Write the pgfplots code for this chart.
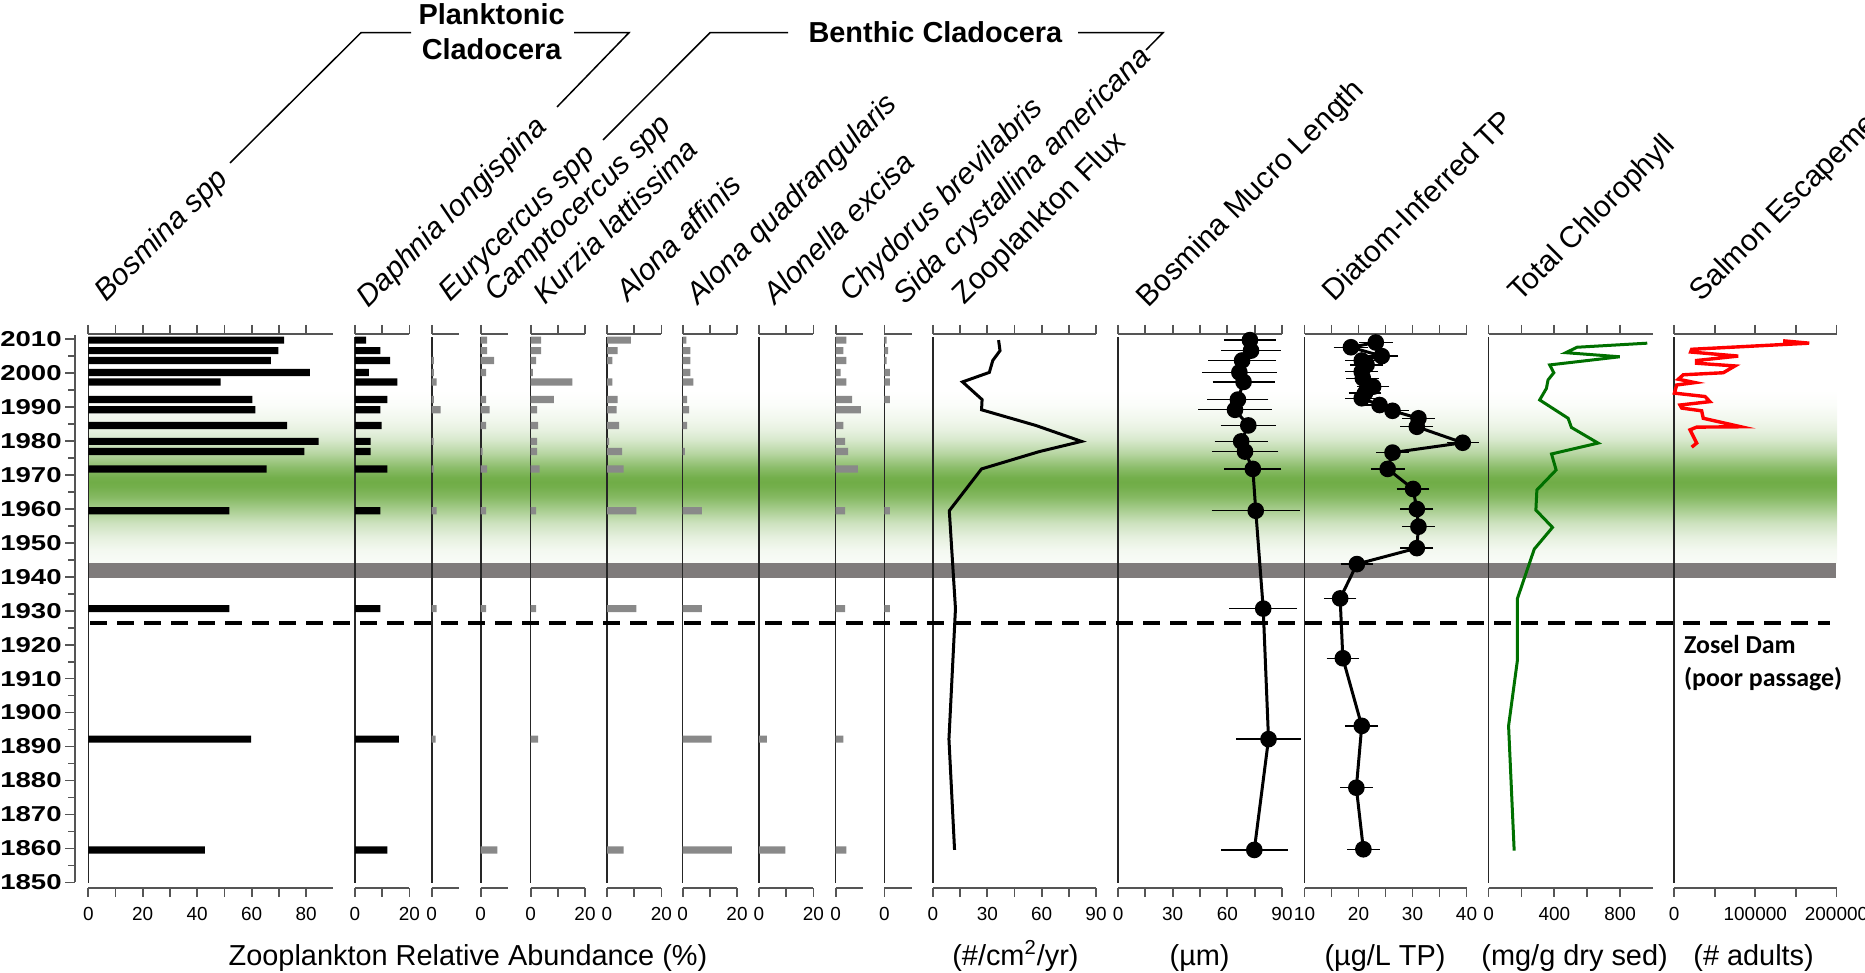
\documentclass[border=0pt]{standalone}
\usepackage{fontspec}
\setmainfont{Liberation Sans}
\newfontfamily\yearfont{Liberation Sans}[BoldFeatures={FakeStretch=1.28}]
\newfontfamily\carlito{Carlito}
\usepackage{pgfplots}
\pgfplotsset{compat=1.18}
\definecolor{bandgreen}{RGB}{112,173,71}
\definecolor{bandgray}{RGB}{127,123,123}
\definecolor{bargray}{RGB}{137,137,137}
\definecolor{chlgreen}{RGB}{0,112,0}
\definecolor{axgray}{RGB}{85,85,85}
\pgfdeclareverticalshading{bandshade}{100bp}{
color(0bp)=(bandgreen!4!white);
color(25bp)=(bandgreen!4!white);
color(28.85bp)=(bandgreen!8!white);
color(32.6bp)=(bandgreen!18!white);
color(36.65bp)=(bandgreen!35!white);
color(40.4bp)=(bandgreen!60!white);
color(44.15bp)=(bandgreen!85!white);
color(47bp)=(bandgreen!97!white);
color(48.45bp)=(bandgreen);
color(49.9bp)=(bandgreen!97!white);
color(52.8bp)=(bandgreen!80!white);
color(56.8bp)=(bandgreen!50!white);
color(60.55bp)=(bandgreen!28!white);
color(63.45bp)=(bandgreen!17!white);
color(66.35bp)=(bandgreen!10!white);
color(70.65bp)=(bandgreen!3!white);
color(75bp)=(white);
color(100bp)=(white)}
\pgfplotsset{
  panel/.style={
    scale only axis, height=277bp,
    ymin=1848.4, ymax=2011.4,
    axis x line=box, axis y line=none, ytick=\empty,
    tick align=outside,
    major tick length=4.5bp, minor tick length=4.5bp,
    x axis line style={axgray, line width=0.9bp},
    tick style={axgray, line width=0.9bp},
    xticklabel style={font=\fontsize{9.5}{10}\selectfont, text=black, yshift=-1.5bp},
    /pgf/number format/assume math mode=true,
    /pgf/number format/fixed,
    /pgf/number format/1000 sep={},
    scaled x ticks=false,
    clip=false,
    anchor=south west,
  },
  bars/.style={xbar, bar width=3.6bp, draw=none, fill=#1},
}
\newcommand\zeroline[1]{\draw[black!85, line width=0.8bp] (axis cs:#1,1850) -- (axis cs:#1,2010.6);}
\begin{document}
\begin{tikzpicture}
\useasboundingbox (0,0) rectangle (932.5bp,486.5bp);
% background bands
\shade[shading=bandshade] (44bp,204.85bp) rectangle (918.5bp,291.5bp);
\fill[bandgray] (44.5bp,197.65bp) rectangle (918bp,204.85bp);

% year axis
\begin{axis}[scale only axis, width=5bp, height=273.9bp, at={(37.5bp,45.25bp)}, anchor=south west,
  xmin=0, xmax=1, ymin=1850, ymax=2011.2, axis y line=left, axis x line=none,
  axis line style={-}, y axis line style={axgray, line width=0.9bp},
  ytick={1850,1860,...,2010}, minor ytick={1855,1865,...,2005}, tick align=outside,
  major tick length=5bp, minor tick length=3.5bp, tick style={axgray, line width=0.9bp},
  yticklabel style={font=\yearfont\bfseries\fontsize{10.8}{12}\selectfont, text=black, inner xsep=1.5bp, inner ysep=0pt},
  /pgf/number format/assume math mode=true, /pgf/number format/fixed, /pgf/number format/1000 sep={}]
\addplot[draw=none] coordinates {(0.5,1900)};
\end{axis}

% 1 Bosmina
\begin{axis}[panel, at={(44.15bp,42.5bp)}, width=122.5bp, xmin=0, xmax=90, xtick={0,20,...,80}, minor xtick={10,30,...,70}]
\zeroline{0}
\addplot[bars=black] coordinates {(71.9,2009.6) (69.8,2006.5) (67.1,2003.6) (81.4,2000.1) (48.6,1997.3) (60.3,1992.1) (61.4,1989.1) (73.0,1984.5) (84.6,1979.8) (79.4,1976.8) (65.5,1971.7) (51.8,1959.4) (51.8,1930.6) (59.8,1892.2) (42.8,1859.6)};
\end{axis}
% 2 Daphnia
\begin{axis}[panel, at={(177.5bp,42.5bp)}, width=27.2bp, xmin=0, xmax=20, xtick={0,20}, minor xtick={10}]
\zeroline{0}
\addplot[bars=black] coordinates {(4.1,2009.6) (9.3,2006.5) (12.9,2003.6) (5.1,2000.1) (15.6,1997.3) (11.9,1992.1) (9.3,1989.1) (9.8,1984.5) (5.7,1979.8) (5.7,1976.8) (11.9,1971.7) (9.3,1959.4) (9.3,1930.6) (16.1,1892.2) (11.9,1859.6)};
\end{axis}
% 3 Eurycercus
\begin{axis}[panel, at={(215.85bp,42.5bp)}, width=13.6bp, xmin=0, xmax=10, xtick={0}]
\zeroline{0}
\addplot[bars=bargray] coordinates {(0.8,2003.6) (0.8,2000.1) (1.8,1997.3) (0.8,1992.1) (3.3,1989.1) (0.7,1979.8) (0.7,1971.7) (1.8,1959.4) (1.8,1930.6) (1.4,1892.2)};
\end{axis}
% 4 Camptocercus
\begin{axis}[panel, at={(240.35bp,42.5bp)}, width=13.6bp, xmin=0, xmax=10, xtick={0}]
\zeroline{0}
\addplot[bars=bargray] coordinates {(2.4,2009.6) (2.4,2006.5) (4.9,2003.6) (2.0,2000.1) (2.0,1992.1) (3.3,1989.1) (2.0,1984.5) (0.7,1976.8) (2.4,1971.7) (2.0,1959.4) (2.0,1930.6) (6.1,1859.6)};
\end{axis}
% 5 Kurzia
\begin{axis}[panel, at={(265.3bp,42.5bp)}, width=27.2bp, xmin=0, xmax=20, xtick={0,20}, minor xtick={10}]
\zeroline{0}
\addplot[bars=bargray] coordinates {(3.9,2009.6) (3.9,2006.5) (2.0,2003.6) (0.8,2000.1) (15.4,1997.3) (8.6,1992.1) (2.4,1989.1) (2.8,1984.5) (2.4,1979.8) (2.4,1976.8) (3.3,1971.7) (2.0,1959.4) (2.0,1930.6) (2.8,1892.2)};
\end{axis}
% 6 Alona affinis
\begin{axis}[panel, at={(303.5bp,42.5bp)}, width=27.2bp, xmin=0, xmax=20, xtick={0,20}, minor xtick={10}]
\zeroline{0}
\addplot[bars=bargray] coordinates {(8.8,2009.6) (3.9,2006.5) (2.0,2003.6) (2.0,1997.3) (3.9,1992.1) (3.5,1989.1) (4.5,1984.5) (0.8,1979.8) (5.6,1976.8) (6.1,1971.7) (10.8,1959.4) (10.8,1930.6) (6.1,1859.6)};
\end{axis}
% 7 Alona quadrangularis
\begin{axis}[panel, at={(341.3bp,42.5bp)}, width=27.2bp, xmin=0, xmax=20, xtick={0,20}, minor xtick={10}]
\zeroline{0}
\addplot[bars=bargray] coordinates {(1.4,2009.6) (2.9,2006.5) (2.9,2003.6) (2.9,2000.1) (4.0,1997.3) (1.7,1992.1) (2.4,1989.1) (1.7,1984.5) (0.8,1976.8) (7.1,1959.4) (7.1,1930.6) (10.7,1892.2) (18.1,1859.6)};
\end{axis}
% 8 Alonella excisa
\begin{axis}[panel, at={(379.5bp,42.5bp)}, width=27.2bp, xmin=0, xmax=20, xtick={0,20}, minor xtick={10}]
\zeroline{0}
\addplot[bars=bargray] coordinates {(2.9,1892.2) (9.7,1859.6)};
\end{axis}
% 9 Chydorus
\begin{axis}[panel, at={(417.8bp,42.5bp)}, width=13.6bp, xmin=0, xmax=10, xtick={0}]
\zeroline{0}
\addplot[bars=bargray] coordinates {(4.0,2009.6) (2.9,2006.5) (4.0,2003.6) (1.8,2000.1) (4.0,1997.3) (6.1,1992.1) (9.3,1989.1) (2.9,1984.5) (3.5,1979.8) (4.6,1976.8) (8.2,1971.7) (3.5,1959.4) (3.5,1930.6) (2.9,1892.2) (4.0,1859.6)};
\end{axis}
% 10 Sida
\begin{axis}[panel, at={(442.2bp,42.5bp)}, width=13.6bp, xmin=0, xmax=10, xtick={0}]
\zeroline{0}
\addplot[bars=bargray] coordinates {(0.8,2009.6) (1.4,2006.5) (0.8,2003.6) (2.0,2000.1) (2.0,1997.3) (2.0,1992.1) (2.0,1959.4) (2.0,1930.6)};
\end{axis}
% 11 Flux
\begin{axis}[panel, at={(466.5bp,42.5bp)}, width=81.5bp, xmin=0, xmax=90, xtick={0,30,60,90}, minor xtick={15,45,75}]
\zeroline{0}
\addplot[black, line width=1.5bp] coordinates {(36.2,2009.6) (37.0,2006.5) (33.0,2003.6) (31.1,2000.1) (16.3,1997.3) (27.1,1992.1) (26.8,1989.1) (56.7,1984.5) (82.0,1979.8) (58.7,1976.8) (26.8,1971.7) (9.0,1959.4) (12.4,1930.6) (8.8,1892.2) (11.9,1859.6)};
\end{axis}
% 12 Mucro
\begin{axis}[panel, at={(559bp,42.5bp)}, width=82bp, xmin=0, xmax=90, xtick={0,30,60,90}, minor xtick={15,45,75}]
\zeroline{0}
\addplot[black, line width=1.5bp, mark=*, mark size=3.4bp, mark options={solid, fill=black},
  error bars/.cd, x dir=both, x explicit, error bar style={line width=0.65bp, black},
  error mark options={line width=0.65bp, mark size=2.5bp, black}]
  table[x=x, y=y, x error=e, row sep=\\] {
x y e\\
72.4 2009.6 11.5\\
73.0 2006.5 13.5\\
68.1 2003.6 15.9\\
66.6 2000.1 17.9\\
68.9 1997.3 14.3\\
65.8 1992.1 14.0\\
64.2 1989.1 17.5\\
71.5 1984.5 12.4\\
67.6 1979.8 11.9\\
69.7 1976.8 15.5\\
74.0 1971.7 12.9\\
75.6 1959.4 21.5\\
79.7 1930.6 15.8\\
82.6 1892.2 14.9\\
74.8 1859.6 15.5\\
};
\end{axis}
% 13 TP
\begin{axis}[panel, at={(652.25bp,42.5bp)}, width=81bp, xmin=10, xmax=40, xtick={10,20,30,40}, minor xtick={15,25,35}]
\zeroline{10}
\addplot[black, line width=1.5bp, mark=*, mark size=3.4bp, mark options={solid, fill=black},
  error bars/.cd, x dir=both, x explicit, error bar style={line width=0.65bp, black},
  error mark options={line width=0.65bp, mark size=2.5bp, black}]
  table[x=x, y=y, x error=e, row sep=\\] {
x y e\\
23.2 2008.9 2.2\\
18.6 2007.5 2.3\\
24.3 2004.9 2.1\\
20.6 2003.6 2.1\\
21.5 2002.3 2.1\\
20.6 2000.3 2.1\\
20.8 1998.4 2.1\\
22.7 1995.9 2.1\\
21.2 1994.0 2.1\\
20.6 1992.5 2.1\\
23.9 1990.5 2.1\\
26.3 1988.8 2.1\\
31.1 1986.6 2.1\\
30.8 1984.1 2.1\\
39.3 1979.4 2.0\\
26.3 1976.5 2.1\\
25.4 1971.7 2.2\\
30.1 1965.8 2.1\\
30.8 1959.9 2.1\\
31.1 1954.7 2.1\\
30.8 1948.4 2.1\\
19.7 1943.7 2.1\\
16.6 1933.6 2.1\\
17.1 1916.0 2.1\\
20.6 1896.1 2.1\\
19.6 1877.9 2.1\\
20.9 1859.8 2.1\\
};
\end{axis}
% 14 Chlorophyll
\begin{axis}[panel, at={(744.25bp,42.5bp)}, width=82.25bp, xmin=0, xmax=1000, xtick={0,400,800}, minor xtick={200,600}]
\zeroline{0}
\addplot[chlgreen, line width=1.5bp] coordinates {(965,2008.7) (538,2007.5) (470,2005.9) (798,2004.7) (372,2002.3) (397,2000.0) (362,1997.9) (352,1995.4) (311,1992.0) (484,1986.6) (504,1983.9) (666,1979.3) (383,1976.1) (411,1971.4) (294,1965.5) (288,1959.6) (389,1954.5) (278,1948.1) (176,1933.6) (176,1915.5) (122,1896.1) (156,1859.4)};
\end{axis}
% 15 Salmon
\begin{axis}[panel, at={(837bp,42.5bp)}, width=81.25bp, xmin=0, xmax=200000, xtick={0,100000,200000}, xticklabels={0,100000,200000}, minor xtick={50000,150000}]
\zeroline{0}
\addplot[red, line width=1.7bp] coordinates {(134300,2009.4) (166300,2008.7) (21750,2006.9) (20500,2006.1) (79000,2004.9) (27900,2003.6) (27900,2002.8) (75000,2002.0) (60600,2000.0) (11400,1999.4) (5300,1998.1) (25800,1997.1) (3300,1996.4) (500,1994.0) (38100,1993.0) (44200,1991.5) (7400,1990.5) (9500,1989.6) (34000,1988.8) (36000,1986.6) (82300,1984.1) (27900,1984.0) (19700,1983.2) (27900,1979.3) (21750,1978.1)};
\end{axis}

% dam line
\draw[black, line width=2bp, dash pattern=on 8.5bp off 5bp] (45bp,175bp) -- (915bp,175bp);
\node[anchor=base west, font=\carlito\bfseries\fontsize{13}{15}\selectfont] at (838.5bp,159.8bp) {Zosel Dam};
\node[anchor=base west, font=\carlito\bfseries\fontsize{13}{15}\selectfont] at (838.5bp,143bp) {(poor passage)};

% species labels
\begin{scope}[every node/.style={rotate=45, anchor=base west, font=\fontsize{15}{18}\selectfont, inner sep=0pt}]
\node[font=\itshape\fontsize{15}{18}\selectfont] at (53.25bp,335.15bp) {Bosmina spp};
\node[font=\itshape\fontsize{15}{18}\selectfont] at (184bp,332bp) {Daphnia longispina};
\node[font=\itshape\fontsize{15}{18}\selectfont] at (225bp,335.15bp) {Eurycercus spp};
\node[font=\itshape\fontsize{15}{18}\selectfont] at (248bp,335.15bp) {Camptocercus spp};
\node[font=\itshape\fontsize{15}{18}\selectfont] at (272.8bp,333.5bp) {Kurzia lattissima};
\node[font=\itshape\fontsize{15}{18}\selectfont] at (314bp,335.15bp) {Alona affinis};
\node[font=\itshape\fontsize{15}{18}\selectfont] at (349.3bp,333.5bp) {Alona quadrangularis};
\node[font=\itshape\fontsize{15}{18}\selectfont] at (387.5bp,333.5bp) {Alonella excisa};
\node[font=\itshape\fontsize{15}{18}\selectfont] at (425.8bp,335.15bp) {Chydorus brevilabris};
\node[font=\itshape\fontsize{15}{18}\selectfont] at (452.5bp,333.5bp) {Sida crystallina americana};
\node at (482.3bp,333.5bp) {Zooplankton Flux};
\node at (574bp,332bp) {Bosmina Mucro Length};
\node at (667.3bp,335bp) {Diatom-Inferred TP};
\node at (760bp,335bp) {Total Chlorophyll};
\node at (850.5bp,335bp) {Salmon Escapement};
\end{scope}

% group headers
\begin{scope}[font=\bfseries\fontsize{14.5}{17}\selectfont]
\node[anchor=base] at (245.8bp,474bp) {Planktonic};
\node[anchor=base] at (245.8bp,456.5bp) {Cladocera};
\node[anchor=base] at (467.7bp,465.15bp) {Benthic Cladocera};
\end{scope}
\draw[line width=0.75bp] (115bp,405bp) -- (180.5bp,470.15bp) -- (205.5bp,470.15bp);
\draw[line width=0.75bp] (287bp,470.15bp) -- (314.5bp,470.15bp) -- (278.5bp,433bp);
\draw[line width=0.75bp] (301.5bp,416.5bp) -- (355bp,470.15bp) -- (394bp,470.15bp);
\draw[line width=0.75bp] (539bp,470.15bp) -- (581.5bp,470.15bp) -- (573bp,461.5bp);

% bottom labels
\begin{scope}[font=\fontsize{14.5}{17}\selectfont]
\node[anchor=base] at (234bp,4bp) {Zooplankton Relative Abundance (\%)};
\node[anchor=base] at (507.7bp,4bp) {(\#/cm\textsuperscript{2}/yr)};
\node[anchor=base] at (599.8bp,4bp) {(µm)};
\node[anchor=base] at (692.5bp,4bp) {(µg/L TP)};
\node[anchor=base] at (787.3bp,4bp) {(mg/g dry sed)};
\node[anchor=base] at (876.8bp,4bp) {(\# adults)};
\end{scope}
\end{tikzpicture}
\end{document}
